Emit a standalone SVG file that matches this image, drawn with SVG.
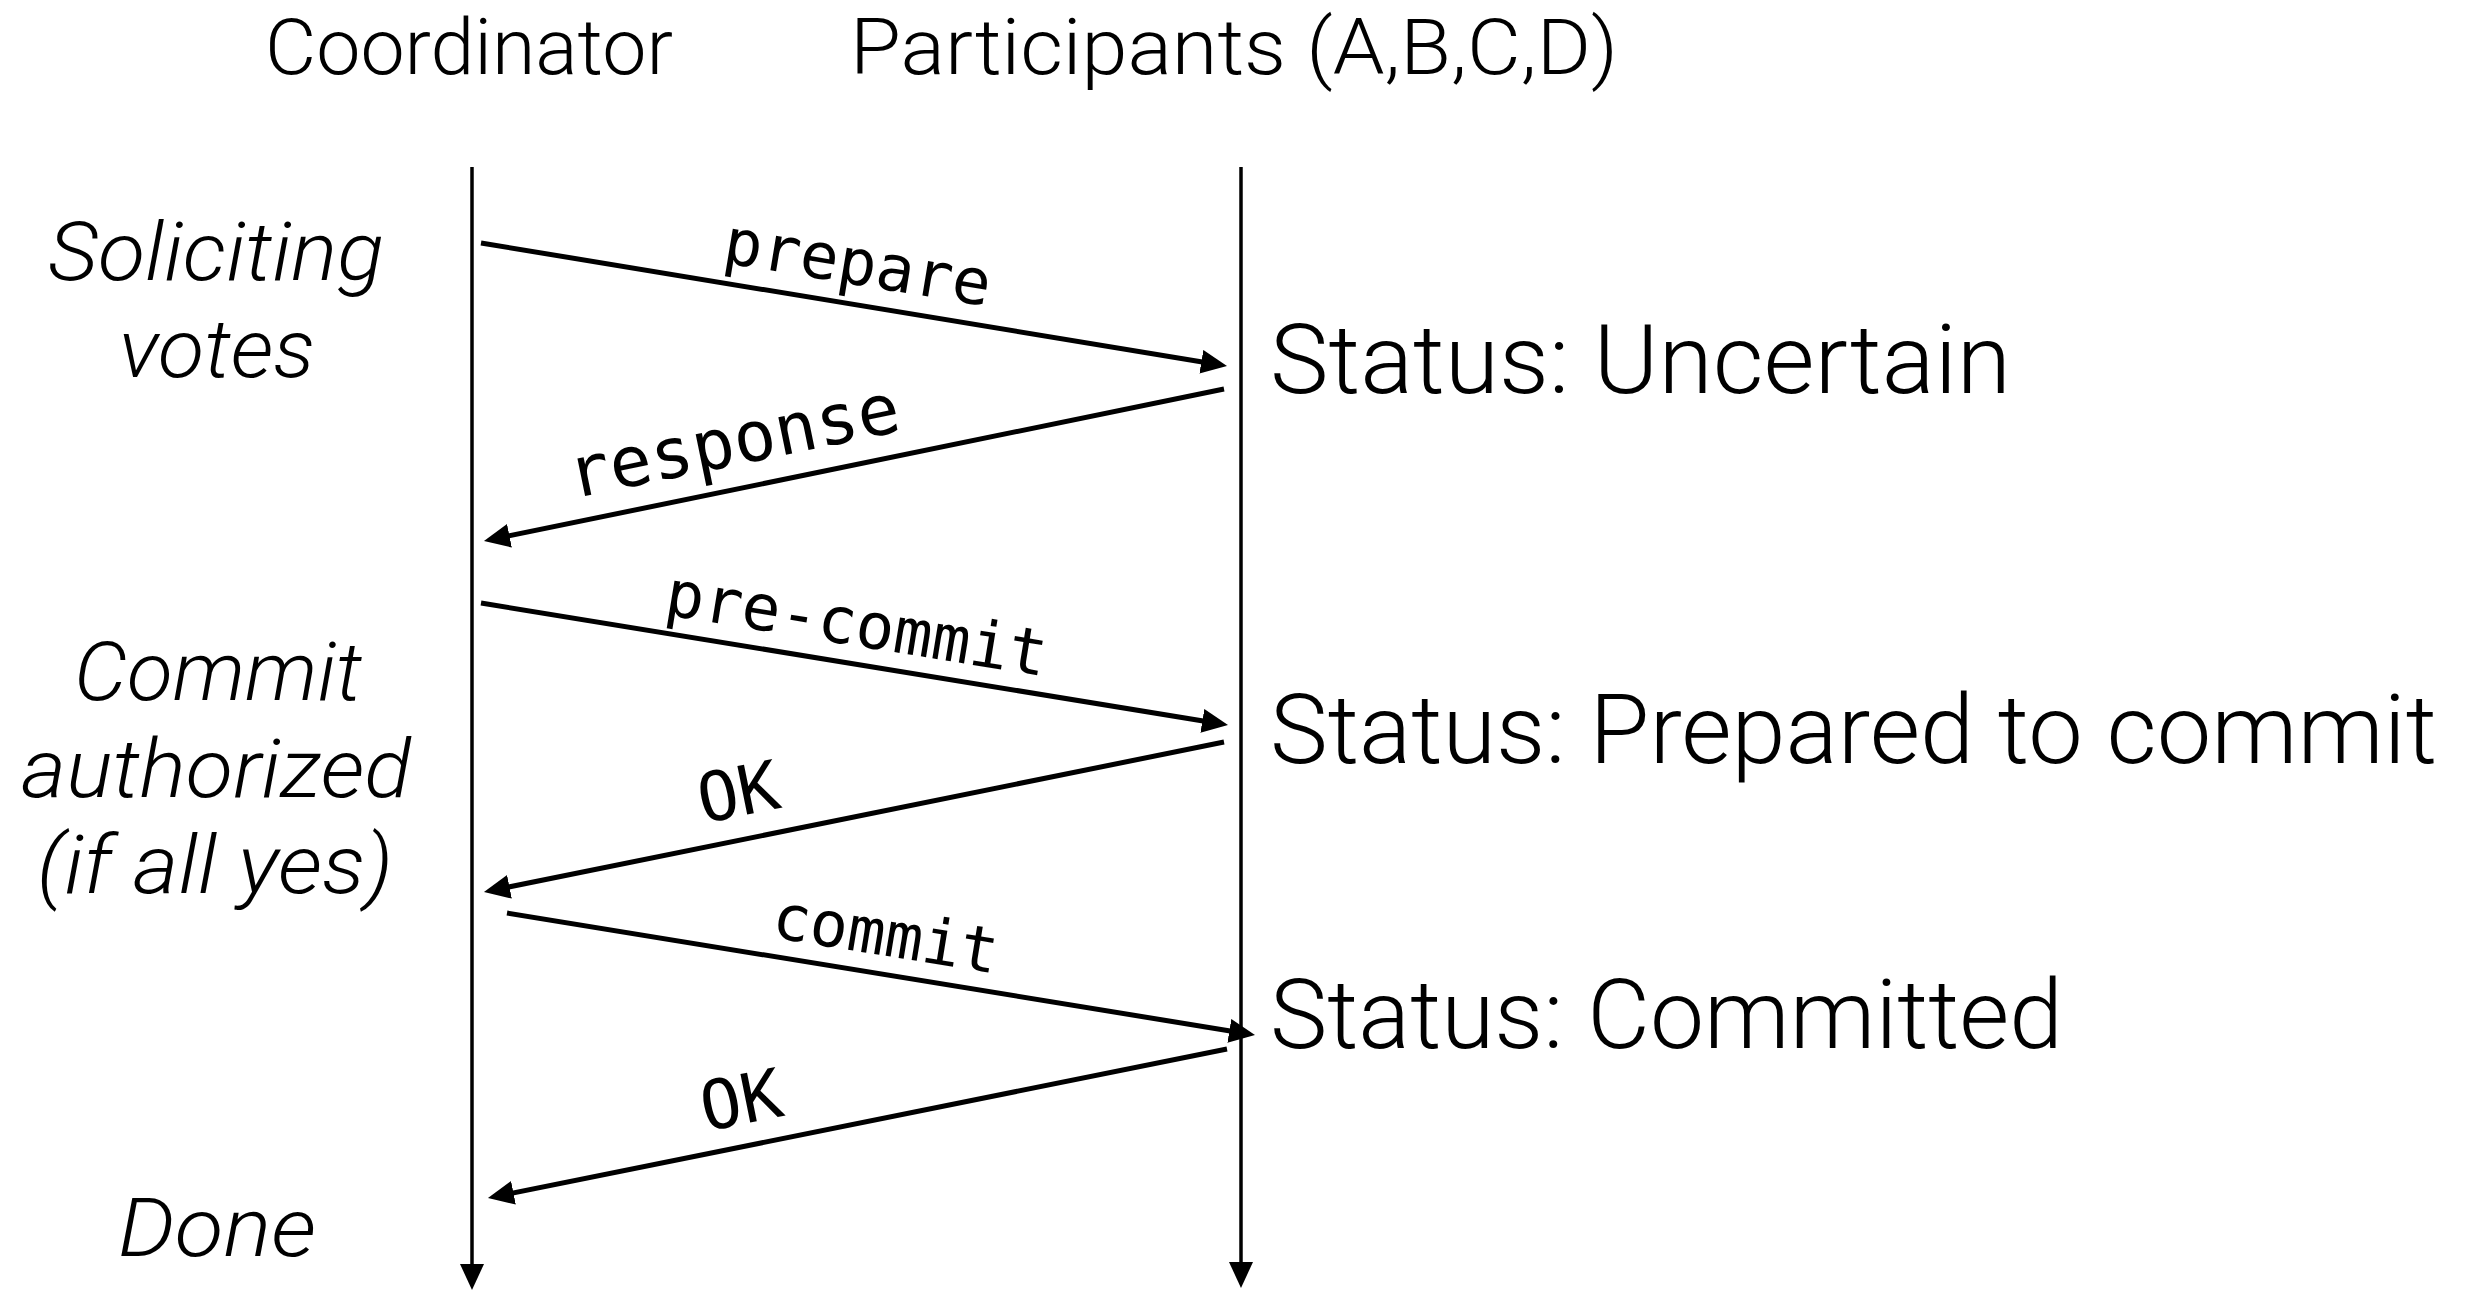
<svg xmlns="http://www.w3.org/2000/svg" width="2473" height="1291" viewBox="0 0 2473 1291">
  <style>
    .head { font-family: Roboto, "Liberation Sans", Arial, sans-serif; font-weight: 300; font-size: 77px; fill: #000; }
    .status { font-family: Roboto, "Liberation Sans", Arial, sans-serif; font-weight: 300; font-size: 97px; fill: #000; }
    .phase { font-family: Roboto, "Liberation Sans", Arial, sans-serif; font-weight: 300; font-style: italic; font-size: 81px; fill: #000; text-anchor: middle; }
    .msg { font-family: "DejaVu Sans Mono", "Liberation Mono", monospace; fill: #000; text-anchor: middle; }
    .lifeline { stroke: #000; stroke-width: 3.5; fill: none; }
    .arrow { stroke: #000; stroke-width: 5; fill: none; }
  </style>
  <defs>
    <marker id="tip" markerUnits="userSpaceOnUse" markerWidth="26" markerHeight="24" viewBox="0 0 26 24" refX="18" refY="12" orient="auto">
      <path d="M0,0 L26,12 L0,24 Z" fill="#000"/>
    </marker>
  </defs>
  <rect width="2473" height="1291" fill="#fff"/>

  <!-- column headers -->
  <g id="coordinator">
    <text class="head" x="265" y="74" textLength="408" lengthAdjust="spacingAndGlyphs">Coordinator</text>
  </g>
  <g id="participants">
    <text class="head" x="850" y="74" textLength="768" lengthAdjust="spacingAndGlyphs">Participants (A,B,C,D)</text>
  </g>

  <!-- coordinator phases -->
  <g id="phase-soliciting">
    <text class="phase" x="216" y="280" textLength="336" lengthAdjust="spacingAndGlyphs">Soliciting</text>
    <text class="phase" x="217" y="377" textLength="196" lengthAdjust="spacingAndGlyphs">votes</text>
  </g>
  <g id="phase-authorized">
    <text class="phase" x="218" y="700" textLength="288" lengthAdjust="spacingAndGlyphs">Commit</text>
    <text class="phase" x="216" y="797" textLength="390" lengthAdjust="spacingAndGlyphs">authorized</text>
    <text class="phase" x="215" y="893" textLength="356" lengthAdjust="spacingAndGlyphs">(if all yes)</text>
  </g>
  <g id="phase-done">
    <text class="phase" x="217" y="1256" textLength="198" lengthAdjust="spacingAndGlyphs">Done</text>
  </g>

  <!-- participant states -->
  <g id="status-uncertain">
    <text class="status" x="1270" y="393" textLength="741" lengthAdjust="spacingAndGlyphs">Status: Uncertain</text>
  </g>
  <g id="status-prepared">
    <text class="status" x="1270" y="763" textLength="1167" lengthAdjust="spacingAndGlyphs">Status: Prepared to commit</text>
  </g>
  <g id="status-committed">
    <text class="status" x="1270" y="1048" textLength="793" lengthAdjust="spacingAndGlyphs">Status: Committed</text>
  </g>

  <!-- lifelines and messages -->
  <g id="connectors">
    <path class="lifeline" d="M472,167 V1282" marker-end="url(#tip)"/>
    <path class="lifeline" d="M1241,167 V1280" marker-end="url(#tip)"/>

    <path class="arrow" d="M481,243 L1219.1,364.7" marker-end="url(#tip)"/>
    <path class="arrow" d="M1224,389 L491.8,539.4" marker-end="url(#tip)"/>
    <path class="arrow" d="M481,603 L1220.1,723.7" marker-end="url(#tip)"/>
    <path class="arrow" d="M1224,742 L491.8,890.4" marker-end="url(#tip)"/>
    <path class="arrow" d="M507,913 L1247.1,1033.7" marker-end="url(#tip)"/>
    <path class="arrow" d="M1227,1049 L495.8,1196.4" marker-end="url(#tip)"/>

    <!-- message labels, laid along each arrow -->
    <g transform="translate(851,304) rotate(9.36)"><text class="msg" x="0" y="-20" font-size="64">prepare</text></g>
    <g transform="translate(743,488) rotate(-11.61)"><text class="msg" x="0" y="-24" font-size="70">response</text></g>
    <g transform="translate(850,664) rotate(9.28)"><text class="msg" x="0" y="-19" font-size="64">pre-commit</text></g>
    <g transform="translate(747,836) rotate(-11.46)"><text class="msg" x="0" y="-21" font-size="68">OK</text></g>
    <g transform="translate(879,975) rotate(9.26)"><text class="msg" x="0" y="-20" font-size="63">commit</text></g>
    <g transform="translate(750,1145) rotate(-11.40)"><text class="msg" x="0" y="-22" font-size="68">OK</text></g>
  </g>
</svg>
